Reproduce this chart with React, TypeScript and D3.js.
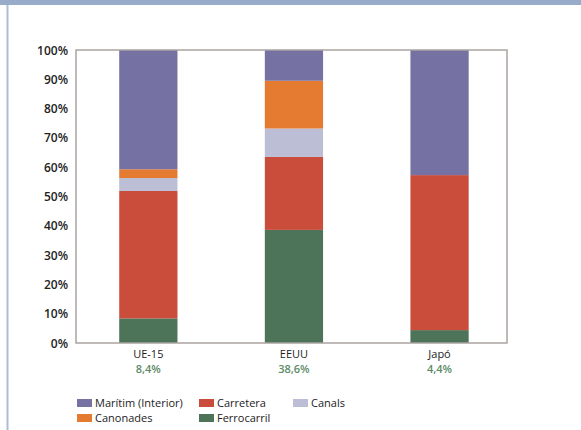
import React from "react";
import * as d3 from "d3";

const categories = ["UE-15", "EEUU", "Japó"];
const shareLabels = ["8,4%", "38,6%", "4,4%"];
const seriesNames = ["Ferrocarril", "Carretera", "Canals", "Canonades", "Marítim (Interior)"];
const ferrocarril = [8.4, 38.6, 4.4];
const carretera = [43.5, 24.9, 52.9];
const canals = [4.4, 9.7, 0];
const canonades = [3.0, 16.3, 0];
const maritim = [40.7, 10.5, 42.7];
const yTicks = [0, 10, 20, 30, 40, 50, 60, 70, 80, 90, 100];
const legendOrder = ["Marítim (Interior)", "Carretera", "Canals", "Canonades", "Ferrocarril"];

const colors: Record<string, string> = {
  "Ferrocarril": "#4d7359",
  "Carretera": "#c94d3a",
  "Canals": "#bbbed5",
  "Canonades": "#e57b30",
  "Marítim (Interior)": "#7571a3",
};

export default function App() {
  const W = 581, H = 430;
  const left = 76, right = 507, top = 50, bottom = 343;
  const rows = categories.map((c, i) => ({
    cat: c,
    "Ferrocarril": ferrocarril[i],
    "Carretera": carretera[i],
    "Canals": canals[i],
    "Canonades": canonades[i],
    "Marítim (Interior)": maritim[i],
  }));
  const stack = d3.stack<any>().keys(seriesNames)(rows);
  const x = d3.scaleBand().domain(categories).range([left, right]).paddingInner(0.6).paddingOuter(0.28).align(0.53);
  const y = d3.scaleLinear().domain([0, 100]).range([bottom, top]);
  const font = "'Open Sans', 'DejaVu Sans', sans-serif";
  const legendPos = [
    { x: 77, y: 403 }, { x: 199, y: 403 }, { x: 293, y: 403 },
    { x: 77, y: 418 }, { x: 199, y: 418 },
  ];
  return (
    <svg width={W} height={H} style={{ position: "absolute", left: 0, top: 0, background: "#fff" }}>
      <rect x={0} y={0} width={W} height={5} fill="#98acca" />
      <rect x={6.5} y={5} width={2} height={H - 5} fill="#aebcd6" />
      {stack.map((s) => (
        <g key={s.key} fill={colors[s.key]}>
          {s.map((d: any, i: number) => (
            <rect key={i} x={x(categories[i])} width={x.bandwidth()}
              y={y(d[1])} height={Math.max(0, y(d[0]) - y(d[1]))} />
          ))}
        </g>
      ))}
      <rect x={left} y={top} width={right - left} height={bottom - top} fill="none" stroke="#aaa3a0" strokeWidth={1.5} />
      {yTicks.map((t) => (
        <text key={t} x={68} y={y(t) + 4.5} textAnchor="end" fontFamily={font} fontSize={12}
          fontWeight={600} fill="#222">{t}%</text>
      ))}
      {categories.map((c, i) => (
        <g key={c}>
          <text x={(x(c) as number) + x.bandwidth() / 2} y={358} textAnchor="middle" fontFamily={font}
            fontSize={11} fill="#222">{c}</text>
          <text x={(x(c) as number) + x.bandwidth() / 2} y={373} textAnchor="middle" fontFamily={font}
            fontSize={11} fontWeight={600} fill="#5b8a66">{shareLabels[i]}</text>
        </g>
      ))}
      {legendOrder.map((k, i) => (
        <g key={k} transform={`translate(${legendPos[i].x},${legendPos[i].y})`}>
          <rect x={0} y={-4} width={15} height={8} fill={colors[k]} />
          <text x={18} y={4} fontFamily={font} fontSize={11} fill="#222">{k}</text>
        </g>
      ))}
    </svg>
  );
}
